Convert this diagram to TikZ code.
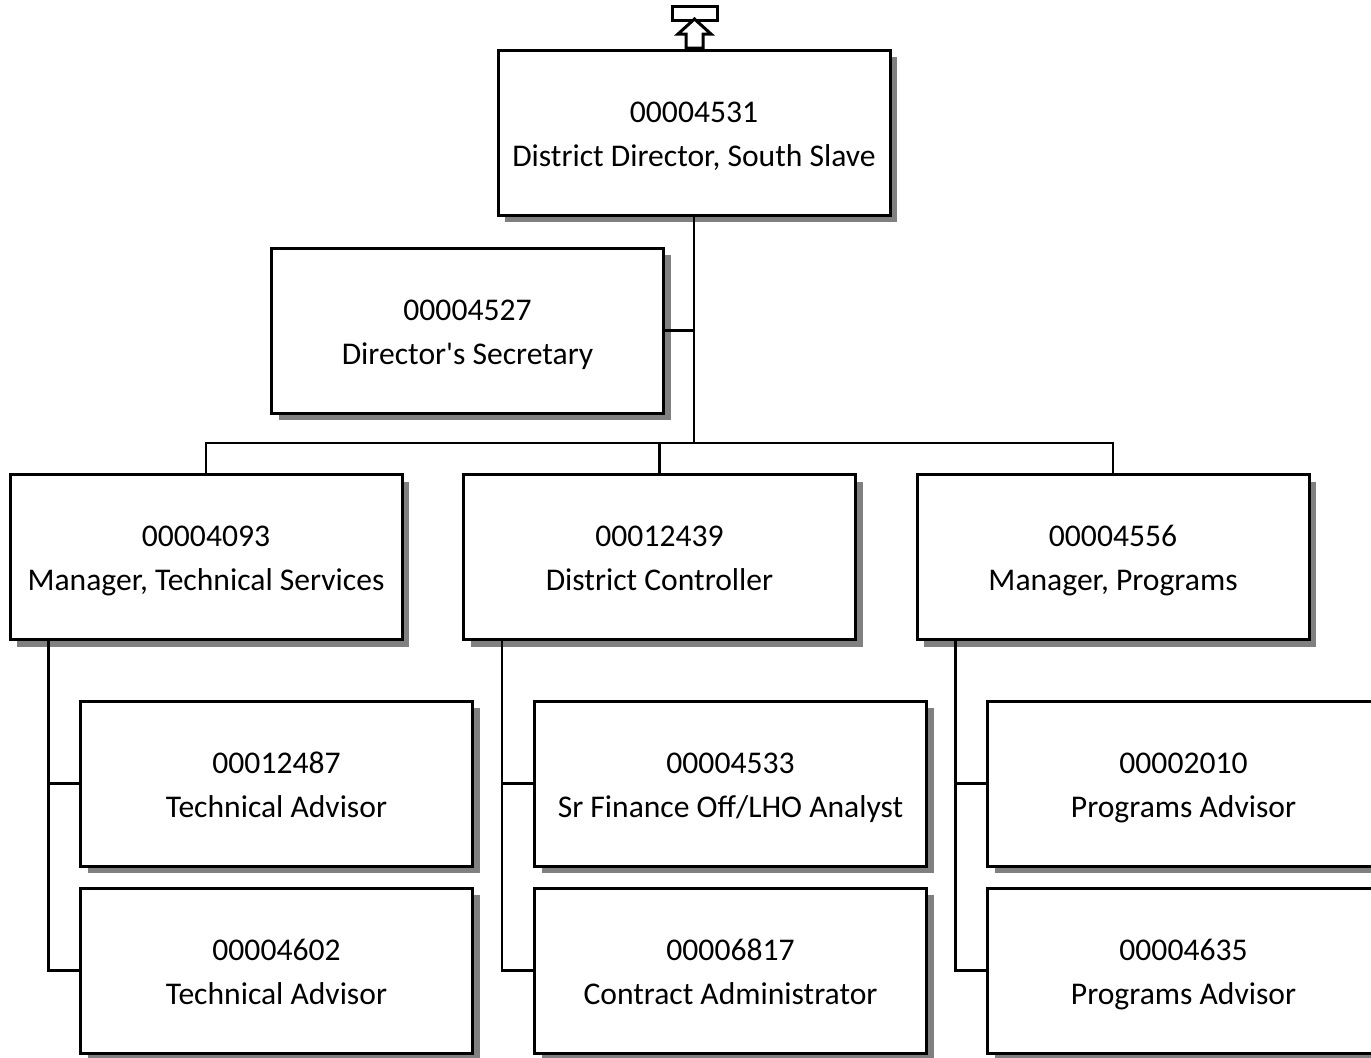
\documentclass[tikz,border=0pt]{standalone}
\usepackage{fontspec}
\newfontfamily\boxfont{Carlito}
\usetikzlibrary{shadows}
\newcommand{\ls}{\rule[-5.25pt]{0pt}{22pt}}
\tikzset{
  posbox/.style={draw, line width=1.5pt, fill=white, align=center,
    minimum width=196pt, minimum height=82.5pt, inner sep=0pt,
    font=\boxfont\fontsize{15.8pt}{22pt}\selectfont,
    drop shadow={shadow xshift=3.5pt, shadow yshift=-3.5pt, fill=black!50, opacity=1}},
  link/.style={line width=1.1pt},
}
\begin{document}
\begin{tikzpicture}[x=0.5pt,y=-0.5pt]
\useasboundingbox (0,0) rectangle (1371,1057);
\clip (0,0) rectangle (1371,1057);
% top icon
\draw[line width=1.5pt, fill=white] (672,6) rectangle (717,20);
\draw[line width=1.5pt, fill=white, line join=miter] (686,48) -- (686,34) -- (678,34) -- (694.5,19) -- (711,34) -- (703,34) -- (703,48) -- cycle;
% boxes
\node[posbox] (top) at (694,132.5) {00004531\ls\\District Director, South Slave\ls};
\node[posbox] (sec) at (467.5,330.5) {00004527\ls\\Director's Secretary\ls};
\node[posbox] (m1) at (206,557) {00004093\ls\\Manager, Technical Services\ls};
\node[posbox] (m2) at (659.5,557) {00012439\ls\\District Controller\ls};
\node[posbox] (m3) at (1113,557) {00004556\ls\\Manager, Programs\ls};
\node[posbox] (a1) at (276.5,783.5) {00012487\ls\\Technical Advisor\ls};
\node[posbox] (a2) at (276.5,970.5) {00004602\ls\\Technical Advisor\ls};
\node[posbox] (b1) at (730.5,783.5) {00004533\ls\\Sr Finance Off/LHO Analyst\ls};
\node[posbox] (b2) at (730.5,970.5) {00006817\ls\\Contract Administrator\ls};
\node[posbox] (c1) at (1183.5,783.5) {00002010\ls\\Programs Advisor\ls};
\node[posbox] (c2) at (1183.5,970.5) {00004635\ls\\Programs Advisor\ls};
% connectors
\coordinate (bar) at (694,443);
\draw[link] (top.south) -- (bar);
\draw[link] (sec.east) -- (sec.east -| top.south);
\draw[link] (m1.north) -- (m1.north |- bar) -- (m3.north |- bar) -- (m3.north);
\draw[link] (m2.north) -- (m2.north |- bar);
\draw[link] ([xshift=20pt]m1.south west) |- (a1.west);
\draw[link] ([xshift=20pt]m1.south west) |- (a2.west);
\draw[link] ([xshift=20pt]m2.south west) |- (b1.west);
\draw[link] ([xshift=20pt]m2.south west) |- (b2.west);
\draw[link] ([xshift=20pt]m3.south west) |- (c1.west);
\draw[link] ([xshift=20pt]m3.south west) |- (c2.west);
\end{tikzpicture}
\end{document}
